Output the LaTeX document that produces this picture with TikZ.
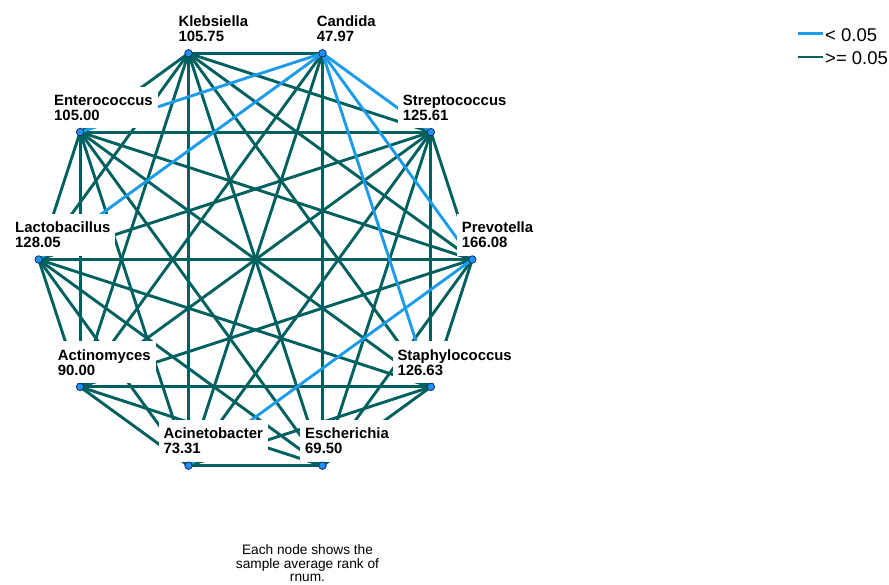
\documentclass[tikz,border=0pt]{standalone}
\usepackage{fontspec}
\setmainfont{Liberation Sans}
\definecolor{gedge}{RGB}{0,96,96}
\definecolor{bedge}{RGB}{28,156,232}
\definecolor{nfill}{RGB}{30,144,255}
\definecolor{nline}{RGB}{20,45,85}
\begin{document}
\begin{tikzpicture}[x=1pt,y=-1pt,
  gl/.style={draw=gedge,line width=2.9pt},
  bl/.style={draw=bedge,line width=2.9pt},
  lab/.style={fill=white,align=left,inner xsep=5pt,inner ysep=8pt,anchor=south west,
              font=\fontsize{14.9}{15}\selectfont\bfseries},
  dot/.style={circle,fill=nfill,draw=nline,line width=0.8pt,minimum size=7.5pt,inner sep=0pt},
  legtxt/.style={anchor=base west,inner sep=0pt,font=\fontsize{18.5}{20}\selectfont}]
\useasboundingbox (0,0) rectangle (889,585);
% node centres (regular decagon)
\coordinate (Pr)  at (472.3,259.5);
\coordinate (St)  at (430.9,132.1);
\coordinate (Ca)  at (322.5,53.3);
\coordinate (Kl)  at (188.5,53.3);
\coordinate (En)  at (80.1,132.1);
\coordinate (La)  at (38.7,259.5);
\coordinate (Act) at (80.1,386.9);
\coordinate (Acn) at (188.5,465.7);
\coordinate (Es)  at (322.5,465.7);
\coordinate (Sta) at (430.9,386.9);
% edges p >= 0.05
\foreach \a/\b in {Pr/St,Pr/Kl,Pr/En,Pr/La,Pr/Act,Pr/Es,Pr/Sta,
                   St/Kl,St/En,St/La,St/Act,St/Acn,St/Es,St/Sta,
                   Ca/Kl,Ca/Act,Ca/Acn,Ca/Es,
                   Kl/En,Kl/La,Kl/Act,Kl/Acn,Kl/Es,Kl/Sta,
                   En/La,En/Act,En/Acn,En/Es,En/Sta,
                   La/Act,La/Acn,La/Es,La/Sta,
                   Act/Acn,Act/Es,Act/Sta,
                   Acn/Es,Acn/Sta,
                   Es/Sta}
  \draw[gl] (\a) -- (\b);
% edges p < 0.05
\foreach \a/\b in {Pr/Ca,Pr/Acn,St/Ca,Ca/En,Ca/La,Ca/Sta}
  \draw[bl] (\a) -- (\b);
% labels
\node[lab] (PrL)  at (456.7,256)   {Prevotella\\166.08};
\node[lab] (StL)  at (397.7,128.6) {Streptococcus\\125.61};
\node[lab] (CaL)  at (311.7,49.8)  {Candida\\47.97};
\node[lab] (KlL)  at (173.3,49.8)  {Klebsiella\\105.75};
\node[lab] (EnL)  at (49,128.6)    {Enterococcus\\105.00};
\node[lab] (LaL)  at (10,256)      {Lactobacillus\\128.05};
\node[lab] (ActL) at (52.7,383.4)  {Actinomyces\\90.00};
\node[lab] (AcnL) at (158.3,462.2) {Acinetobacter\\73.31};
\node[lab] (EsL)  at (300,462.2)   {Escherichia\\69.50};
\node[lab] (StaL) at (392.3,383.4) {Staphylococcus\\126.63};
% node markers
\foreach \n in {Pr,St,Ca,Kl,En,La,Act,Acn,Es,Sta}
  \node[dot] (\n D) at (\n) {};
% legend
\coordinate (L1a) at (798,33.5);
\coordinate (L1b) at (823,33.5);
\coordinate (L2a) at (798,57);
\coordinate (L2b) at (823,57);
\draw[bl] (L1a) -- (L1b);
\draw[gl] (L2a) -- (L2b);
\node[legtxt] (L1t) at (825,41.7) {< 0.05};
\node[legtxt] (L2t) at (825,65)   {>= 0.05};
% footnote
\node[align=center,anchor=north,inner sep=0pt,font=\fontsize{13.7}{13.5}\selectfont] (note)
  at (307.5,544.7) {Each node shows the\\sample average rank of\\rnum.};
\end{tikzpicture}
\end{document}
